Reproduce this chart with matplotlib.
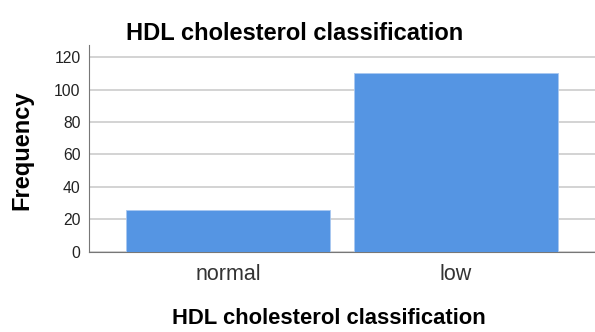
import matplotlib
matplotlib.use('Agg')
import matplotlib.pyplot as plt

categories = ['normal', 'low']
frequencies = [26, 110]
yticks = [0, 20, 40, 60, 80, 100, 120]

plt.rcParams['font.family'] = ['Liberation Sans', 'DejaVu Sans']

fig = plt.figure(figsize=(5.95, 3.32), dpi=100)
ax = fig.add_axes([0.1496, 0.241, 0.8504, 0.6235])

x = list(range(len(categories)))
ax.bar(x, frequencies, width=0.895, color='#5595e3', edgecolor='#a9c8f0', linewidth=0.6, zorder=3)

ax.set_xlim(-0.61, 1.61)
ax.set_ylim(0, 127.4)
ax.set_yticks(yticks)
ax.set_xticks(x)
ax.set_xticklabels(categories, fontsize=15.5, color='#333333')
ax.tick_params(axis='y', labelsize=11.3, length=0, pad=6, colors='#222222')
ax.tick_params(axis='x', length=0, pad=9)

ax.grid(axis='y', color='#cccccc', linewidth=1.2, zorder=0)
for side in ['top', 'right']:
    ax.spines[side].set_visible(False)
ax.spines['left'].set_color('#777777')
ax.spines['bottom'].set_color('#777777')
ax.spines['left'].set_bounds(0, 127.4)

fig.text(0.496, 0.9, 'HDL cholesterol classification', ha='center', va='center',
         fontsize=17, fontweight='bold')
fig.text(0.552, 0.008, 'HDL cholesterol classification', ha='center', va='bottom',
         fontsize=15.8, fontweight='bold')
fig.text(0.037, 0.548, 'Frequency', ha='center', va='center', rotation=90,
         fontsize=17, fontweight='bold')

fig.savefig('out.png', dpi=100)
